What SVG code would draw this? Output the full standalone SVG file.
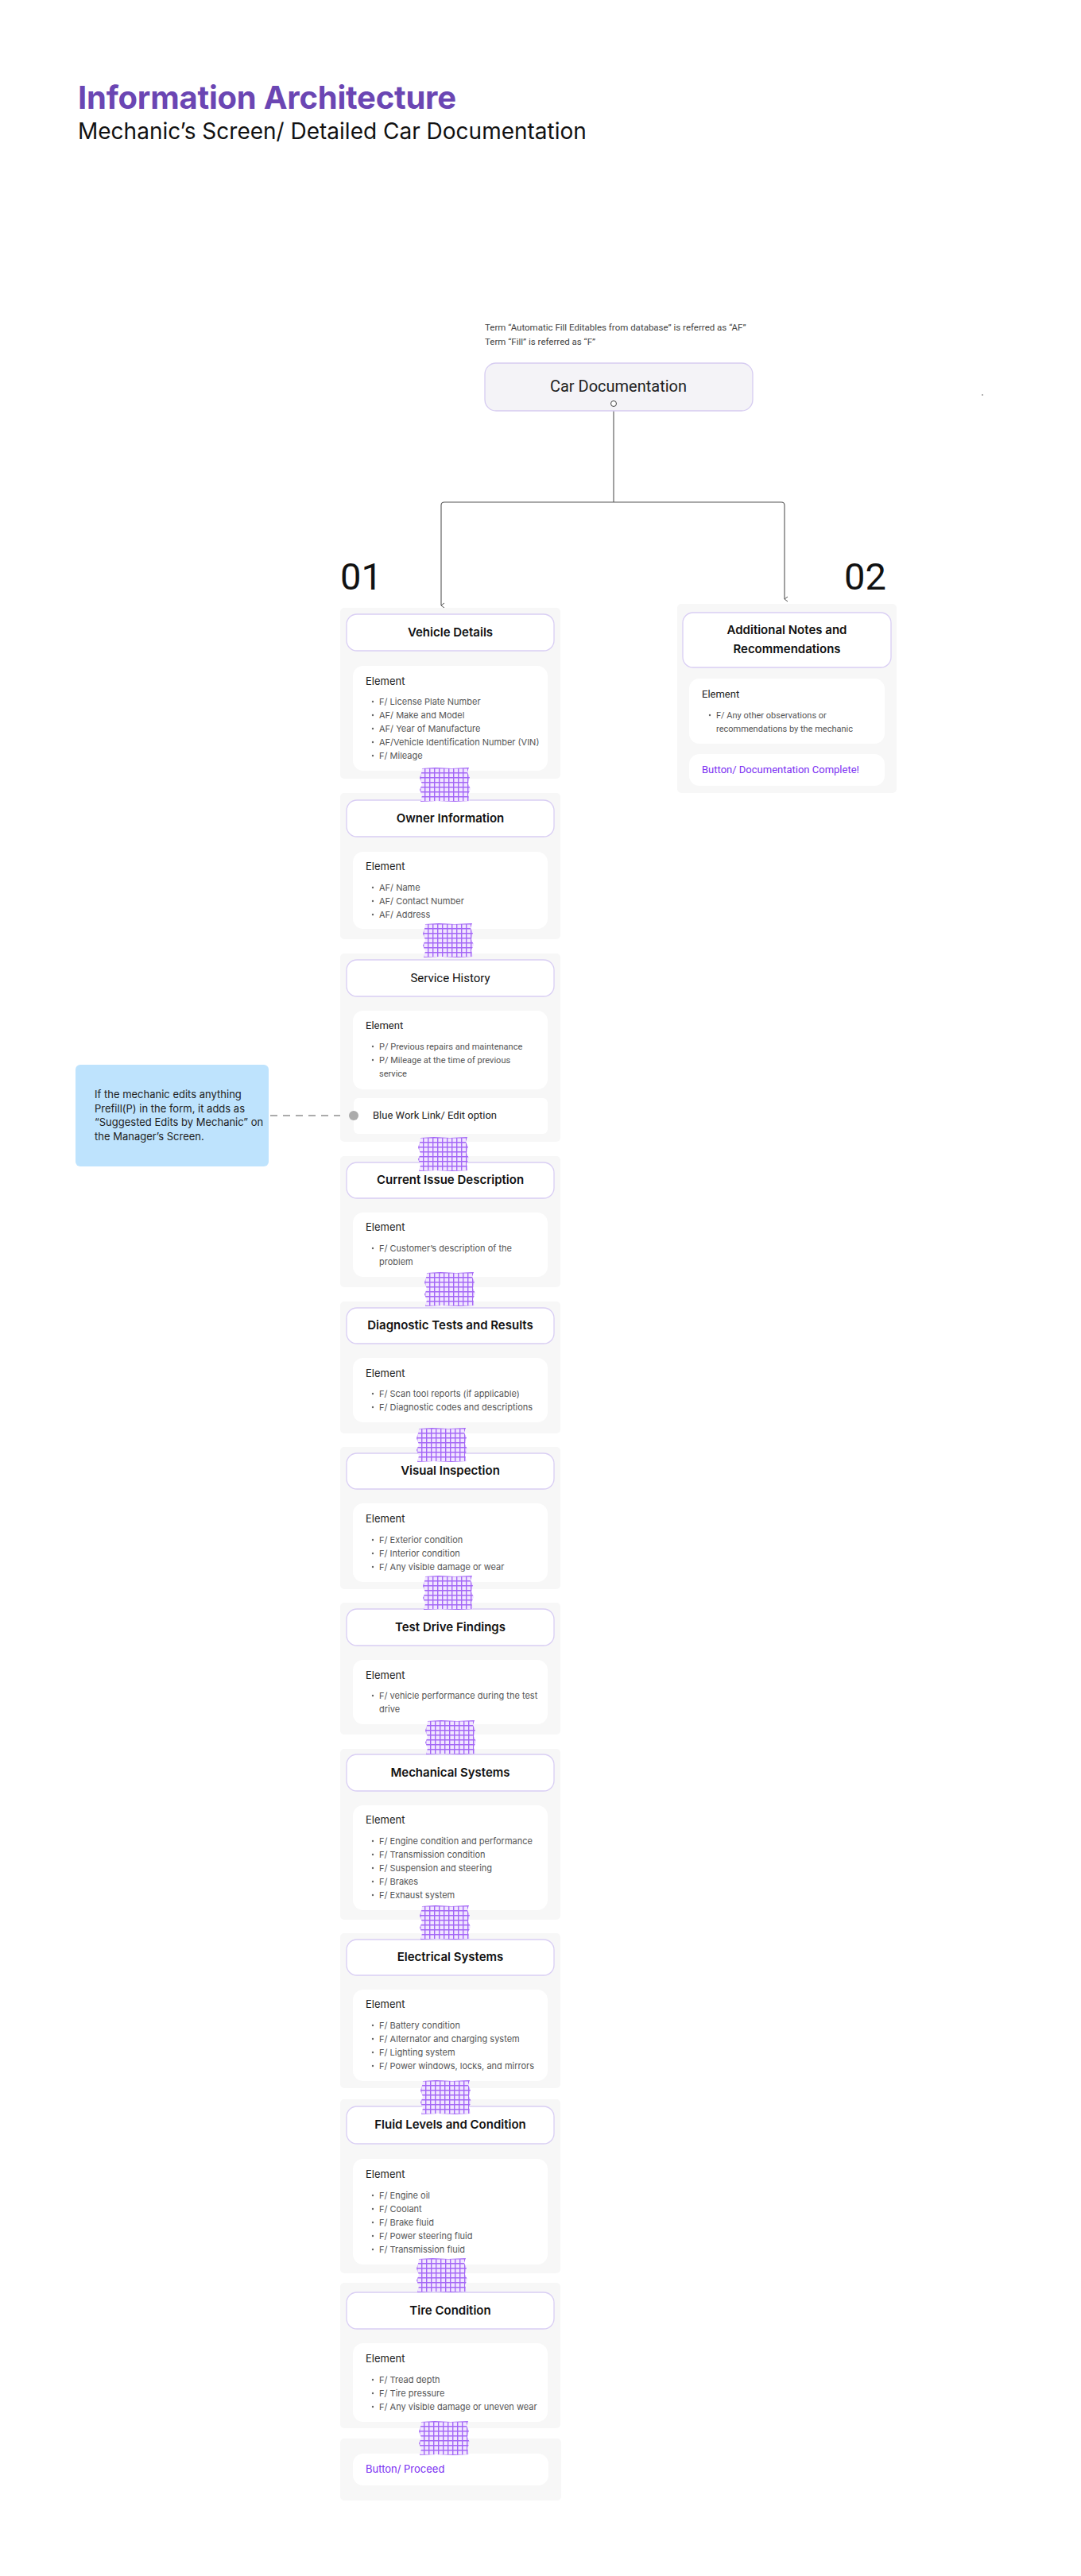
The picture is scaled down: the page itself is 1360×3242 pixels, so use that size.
<svg xmlns="http://www.w3.org/2000/svg" width="1360" height="3242" viewBox="0 0 1360 3242">
<style>
.bg{fill:#FFFFFF}
.panel{fill:#F7F7F7}
.hdr{fill:#FFFFFF;stroke:#D9CEF4;stroke-width:1.3}
.inner{fill:#FFFFFF}
.ht{font-family:Inter,"Liberation Sans",sans-serif;font-size:15px;font-weight:600;fill:#111;text-anchor:middle}
.htr{font-family:Roboto,"Liberation Sans",sans-serif;font-size:15px;font-weight:400;fill:#111;text-anchor:middle}
.el{font-family:Inter,"Liberation Sans",sans-serif;font-size:13px;fill:#222}
.it{font-family:Inter,"Liberation Sans",sans-serif;font-size:11px;fill:#555}
.elr{font-family:Roboto,"Liberation Sans",sans-serif;font-size:13px;fill:#222}
.itr{font-family:Roboto,"Liberation Sans",sans-serif;font-size:11px;fill:#555}
.btn{font-family:Inter,"Liberation Sans",sans-serif;font-size:13px;fill:#7B2FF2}
.btnr{font-family:Roboto,"Liberation Sans",sans-serif;font-size:13px;fill:#7B2FF2}
.dot{fill:#666}
.conn{fill:none;stroke:#555;stroke-width:1.1}
</style>
<defs>
<pattern id="grid" width="6" height="6" patternUnits="userSpaceOnUse">
<rect width="6" height="6" fill="#F1E6FF"/>
<path d="M0.7,0 V6 M0,0.7 H6" stroke="#A467F6" stroke-width="1.4"/>
</pattern>
<g id="tape">
<path d="M3,1 L20,0 L40,1 L62,0 L60,6 L63,12 L61,20 L64,27 L61,34 L63,42 L44,43 L22,42 L1,43 L3,35 L0,28 L3,21 L0,13 L2,7 Z" fill="url(#grid)"/>
</g>
<marker id="arr" markerWidth="8" markerHeight="8" refX="4" refY="6" orient="auto" markerUnits="userSpaceOnUse">
<path d="M1,2 L4,6 L7,2" fill="none" stroke="#555" stroke-width="1"/>
</marker>
</defs>
<rect class="bg" x="0" y="0" width="1360" height="3242"/>

<g id="title">
<text x="98" y="137" font-family="Inter, 'Liberation Sans', sans-serif" font-size="40" font-weight="700" fill="#6B46B3" textLength="476">Information Architecture</text>
<text x="98" y="175" font-family="Inter, 'Liberation Sans', sans-serif" font-size="28" font-weight="400" fill="#111">Mechanic’s Screen/ Detailed Car Documentation</text>
</g>

<g id="legend">
<text x="610" y="416" font-family="Roboto, 'Liberation Sans', sans-serif" font-size="11.5" fill="#444">Term “Automatic Fill Editables from database” is referred as “AF”</text>
<text x="610" y="434" font-family="Roboto, 'Liberation Sans', sans-serif" font-size="11.5" fill="#444">Term “Fill” is referred as “F”</text>
<circle cx="1236" cy="497" r="1" fill="#999"/>
</g>

<g id="connectors">
<path class="conn" d="M772,511.5 V632"/>
<path class="conn" d="M772,632 H559 Q555,632 555,636 V762" marker-end="url(#arr)"/>
<path class="conn" d="M772,632 H983 Q987,632 987,636 V754" marker-end="url(#arr)"/>
<path d="M340,1404 H439" fill="none" stroke="#ABABAB" stroke-width="2" stroke-dasharray="9 7"/>
</g>

<g id="car-documentation">
<rect x="610" y="457" width="337" height="60" rx="14" fill="#F4F3F7" stroke="#D6CCF1" stroke-width="1.3"/>
<text x="778" y="493" font-family="Roboto, 'Liberation Sans', sans-serif" font-size="20" fill="#222" text-anchor="middle">Car Documentation</text>
<circle cx="772" cy="508" r="3.5" fill="#fff" stroke="#444" stroke-width="1"/>
</g>

<g id="label-01"><text x="428" y="742" font-family="Roboto, 'Liberation Sans', sans-serif" font-size="47" fill="#111">01</text></g>
<g id="label-02"><text x="1062" y="742" font-family="Roboto, 'Liberation Sans', sans-serif" font-size="47" fill="#111">02</text></g>

<g id="note">
<rect x="95" y="1340" width="243" height="128" rx="6" fill="#BEE3FD"/>
<text class="el" x="119" y="1382">If the mechanic edits anything</text>
<text class="el" x="119" y="1399.5">Prefill(P) in the form, it adds as</text>
<text class="el" x="119" y="1417">“Suggested Edits by Mechanic” on</text>
<text class="el" x="119" y="1434.5">the Manager’s Screen.</text>
</g>

<g id="additional-notes">
<rect class="panel" x="852" y="760" width="276" height="238" rx="5"/>
<rect class="hdr" x="859" y="771" width="262" height="69" rx="13"/>
<text class="ht" x="990" y="798">Additional Notes and</text>
<text class="ht" x="990" y="822">Recommendations</text>
<rect class="inner" x="867" y="854" width="246" height="82" rx="13"/>
<text class="elr" x="883" y="878">Element</text>
<circle class="dot" cx="893" cy="900" r="1.2"/>
<text class="itr" x="901" y="904">F/ Any other observations or</text>
<text class="itr" x="901" y="921">recommendations by the mechanic</text>
<rect class="inner" x="867" y="949" width="246" height="40" rx="13"/>
<text class="btnr" x="883" y="973">Button/ Documentation Complete!</text>
</g>

<g id="vehicle-details">
<rect class="panel" x="428" y="765" width="277" height="215" rx="5"/>
<rect class="hdr" x="436" y="773" width="261" height="46" rx="13"/>
<text class="ht" x="566.5" y="801">Vehicle Details</text>
<rect class="inner" x="444" y="838" width="245" height="132" rx="13"/>
<text class="el" x="460" y="862">Element</text>
<circle class="dot" cx="469" cy="883" r="1.2"/><text class="it" x="477" y="887">F/ License Plate Number</text>
<circle class="dot" cx="469" cy="900" r="1.2"/><text class="it" x="477" y="904">AF/ Make and Model</text>
<circle class="dot" cx="469" cy="917" r="1.2"/><text class="it" x="477" y="921">AF/ Year of Manufacture</text>
<circle class="dot" cx="469" cy="934" r="1.2"/><text class="it" x="477" y="938">AF/Vehicle Identification Number (VIN)</text>
<circle class="dot" cx="469" cy="951" r="1.2"/><text class="it" x="477" y="955">F/ Mileage</text>
</g>

<g id="owner-information">
<rect class="panel" x="428" y="998" width="277" height="184" rx="5"/>
<rect class="hdr" x="436" y="1007" width="261" height="46" rx="13"/>
<text class="ht" x="566.5" y="1035">Owner Information</text>
<rect class="inner" x="444" y="1072" width="245" height="97" rx="13"/>
<text class="el" x="460" y="1095">Element</text>
<circle class="dot" cx="469" cy="1117" r="1.2"/><text class="it" x="477" y="1121">AF/ Name</text>
<circle class="dot" cx="469" cy="1134" r="1.2"/><text class="it" x="477" y="1138">AF/ Contact Number</text>
<circle class="dot" cx="469" cy="1151" r="1.2"/><text class="it" x="477" y="1155">AF/ Address</text>
</g>

<g id="service-history">
<rect class="panel" x="428" y="1200" width="277" height="237" rx="5"/>
<rect class="hdr" x="436" y="1208" width="261" height="46" rx="13"/>
<text class="htr" x="566.5" y="1236">Service History</text>
<rect class="inner" x="444" y="1272" width="245" height="99" rx="13"/>
<text class="elr" x="460" y="1295">Element</text>
<circle class="dot" cx="469" cy="1317" r="1.2"/><text class="itr" x="477" y="1321">P/ Previous repairs and maintenance</text>
<circle class="dot" cx="469" cy="1334" r="1.2"/><text class="itr" x="477" y="1338">P/ Mileage at the time of previous</text>
<text class="itr" x="477" y="1355">service</text>
<rect class="inner" x="445" y="1382" width="244" height="45" rx="6"/>
<text class="elr" x="469" y="1408" font-size="12">Blue Work Link/ Edit option</text>
<circle cx="445" cy="1404" r="6" fill="#ABABAB"/>
</g>

<g id="current-issue">
<rect class="panel" x="428" y="1455" width="277" height="165" rx="5"/>
<rect class="hdr" x="436" y="1463" width="261" height="45" rx="13"/>
<text class="ht" x="566.5" y="1490">Current Issue Description</text>
<rect class="inner" x="444" y="1526" width="245" height="81" rx="13"/>
<text class="el" x="460" y="1549">Element</text>
<circle class="dot" cx="469" cy="1571" r="1.2"/><text class="it" x="477" y="1575">F/ Customer’s description of the</text>
<text class="it" x="477" y="1592">problem</text>
</g>

<g id="diagnostic-tests">
<rect class="panel" x="428" y="1638" width="277" height="166" rx="5"/>
<rect class="hdr" x="436" y="1646" width="261" height="45" rx="13"/>
<text class="ht" x="566.5" y="1673">Diagnostic Tests and Results</text>
<rect class="inner" x="444" y="1709" width="245" height="81" rx="13"/>
<text class="el" x="460" y="1733">Element</text>
<circle class="dot" cx="469" cy="1754" r="1.2"/><text class="it" x="477" y="1758">F/ Scan tool reports (if applicable)</text>
<circle class="dot" cx="469" cy="1771" r="1.2"/><text class="it" x="477" y="1775">F/ Diagnostic codes and descriptions</text>
</g>

<g id="visual-inspection">
<rect class="panel" x="428" y="1821" width="277" height="179" rx="5"/>
<rect class="hdr" x="436" y="1829" width="261" height="45" rx="13"/>
<text class="ht" x="566.5" y="1856">Visual Inspection</text>
<rect class="inner" x="444" y="1892" width="245" height="99" rx="13"/>
<text class="el" x="460" y="1916">Element</text>
<circle class="dot" cx="469" cy="1938" r="1.2"/><text class="it" x="477" y="1942">F/ Exterior condition</text>
<circle class="dot" cx="469" cy="1955" r="1.2"/><text class="it" x="477" y="1959">F/ Interior condition</text>
<circle class="dot" cx="469" cy="1972" r="1.2"/><text class="it" x="477" y="1976">F/ Any visible damage or wear</text>
</g>

<g id="test-drive">
<rect class="panel" x="428" y="2017" width="277" height="166" rx="5"/>
<rect class="hdr" x="436" y="2025" width="261" height="46" rx="13"/>
<text class="ht" x="566.5" y="2053">Test Drive Findings</text>
<rect class="inner" x="444" y="2089" width="245" height="81" rx="13"/>
<text class="el" x="460" y="2113">Element</text>
<circle class="dot" cx="469" cy="2134" r="1.2"/><text class="it" x="477" y="2138">F/ vehicle performance during the test</text>
<text class="it" x="477" y="2155">drive</text>
</g>

<g id="mechanical-systems">
<rect class="panel" x="428" y="2201" width="277" height="215" rx="5"/>
<rect class="hdr" x="436" y="2208" width="261" height="46" rx="13"/>
<text class="ht" x="566.5" y="2236">Mechanical Systems</text>
<rect class="inner" x="444" y="2272" width="245" height="132" rx="13"/>
<text class="el" x="460" y="2295">Element</text>
<circle class="dot" cx="469" cy="2317" r="1.2"/><text class="it" x="477" y="2321">F/ Engine condition and performance</text>
<circle class="dot" cx="469" cy="2334" r="1.2"/><text class="it" x="477" y="2338">F/ Transmission condition</text>
<circle class="dot" cx="469" cy="2351" r="1.2"/><text class="it" x="477" y="2355">F/ Suspension and steering</text>
<circle class="dot" cx="469" cy="2368" r="1.2"/><text class="it" x="477" y="2372">F/ Brakes</text>
<circle class="dot" cx="469" cy="2385" r="1.2"/><text class="it" x="477" y="2389">F/ Exhaust system</text>
</g>

<g id="electrical-systems">
<rect class="panel" x="428" y="2433" width="277" height="195" rx="5"/>
<rect class="hdr" x="436" y="2441" width="261" height="45" rx="13"/>
<text class="ht" x="566.5" y="2468">Electrical Systems</text>
<rect class="inner" x="444" y="2504" width="245" height="115" rx="13"/>
<text class="el" x="460" y="2527">Element</text>
<circle class="dot" cx="469" cy="2549" r="1.2"/><text class="it" x="477" y="2553">F/ Battery condition</text>
<circle class="dot" cx="469" cy="2566" r="1.2"/><text class="it" x="477" y="2570">F/ Alternator and charging system</text>
<circle class="dot" cx="469" cy="2583" r="1.2"/><text class="it" x="477" y="2587">F/ Lighting system</text>
<circle class="dot" cx="469" cy="2600" r="1.2"/><text class="it" x="477" y="2604">F/ Power windows, locks, and mirrors</text>
</g>

<g id="fluid-levels">
<rect class="panel" x="428" y="2642" width="277" height="219" rx="5"/>
<rect class="hdr" x="436" y="2651" width="261" height="47" rx="13"/>
<text class="ht" x="566.5" y="2679">Fluid Levels and Condition</text>
<rect class="inner" x="444" y="2717" width="245" height="133" rx="13"/>
<text class="el" x="460" y="2741">Element</text>
<circle class="dot" cx="469" cy="2763" r="1.2"/><text class="it" x="477" y="2767">F/ Engine oil</text>
<circle class="dot" cx="469" cy="2780" r="1.2"/><text class="it" x="477" y="2784">F/ Coolant</text>
<circle class="dot" cx="469" cy="2797" r="1.2"/><text class="it" x="477" y="2801">F/ Brake fluid</text>
<circle class="dot" cx="469" cy="2814" r="1.2"/><text class="it" x="477" y="2818">F/ Power steering fluid</text>
<circle class="dot" cx="469" cy="2831" r="1.2"/><text class="it" x="477" y="2835">F/ Transmission fluid</text>
</g>

<g id="tire-condition">
<rect class="panel" x="428" y="2873" width="277" height="183" rx="5"/>
<rect class="hdr" x="436" y="2885" width="261" height="46" rx="13"/>
<text class="ht" x="566.5" y="2913">Tire Condition</text>
<rect class="inner" x="444" y="2949" width="245" height="99" rx="13"/>
<text class="el" x="460" y="2973">Element</text>
<circle class="dot" cx="469" cy="2995" r="1.2"/><text class="it" x="477" y="2999">F/ Tread depth</text>
<circle class="dot" cx="469" cy="3012" r="1.2"/><text class="it" x="477" y="3016">F/ Tire pressure</text>
<circle class="dot" cx="469" cy="3029" r="1.2"/><text class="it" x="477" y="3033">F/ Any visible damage or uneven wear</text>
</g>

<g id="proceed">
<rect class="panel" x="428" y="3069" width="278" height="78" rx="5"/>
<rect class="inner" x="444" y="3088" width="246" height="40" rx="13"/>
<text class="btn" x="460" y="3112">Button/ Proceed</text>
</g>

<g id="tapes">
<use href="#tape" transform="translate(528,966)"/>
<use href="#tape" transform="translate(532,1162)"/>
<use href="#tape" transform="translate(526,1431)"/>
<use href="#tape" transform="translate(534,1601)"/>
<use href="#tape" transform="translate(524,1797)"/>
<use href="#tape" transform="translate(532,1983)"/>
<use href="#tape" transform="translate(535,2165)"/>
<use href="#tape" transform="translate(528,2398)"/>
<use href="#tape" transform="translate(529,2618)"/>
<use href="#tape" transform="translate(524,2842)"/>
<use href="#tape" transform="translate(527,3047)"/>
</g>
</svg>
